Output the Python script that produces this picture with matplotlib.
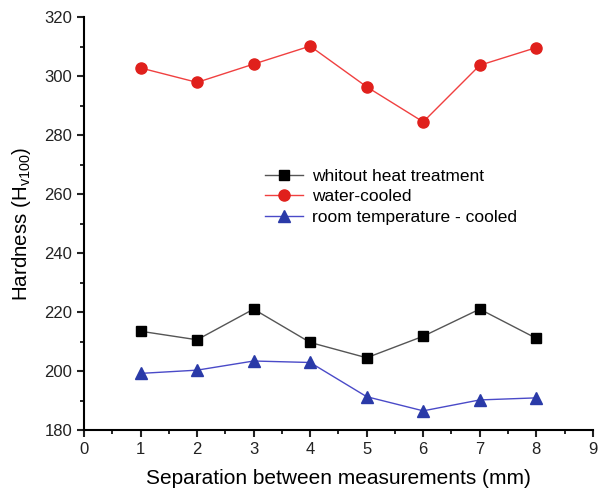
import numpy as np
from matplotlib import pyplot as plt
from matplotlib.ticker import MultipleLocator

plt.rcParams['font.family'] = ['Liberation Sans', 'DejaVu Sans']

# data
x = [1, 2, 3, 4, 5, 6, 7, 8]
no_treatment = [213.5, 210.6, 221.0, 209.7, 204.5, 211.8, 221.0, 211.1]
water_cooled = [302.8, 297.9, 304.1, 310.2, 296.4, 284.5, 303.7, 309.7]
room_cooled = [199.2, 200.3, 203.4, 202.9, 191.3, 186.5, 190.2, 190.9]

fig = plt.figure(figsize=(6, 4.92), dpi=100)
ax = fig.add_axes([0.14, 0.126, 0.848, 0.839])

ax.plot(x, no_treatment, color='#555555', lw=1, marker='s', ms=7,
        mfc='black', mec='black', label='whitout heat treatment')
ax.plot(x, water_cooled, color='#f04040', lw=1, marker='o', ms=8,
        mfc='#e0201c', mec='#e0201c', label='water-cooled')
ax.plot(x, room_cooled, color='#4a4ac8', lw=1, marker='^', ms=8,
        mfc='#2a3aa8', mec='#2a3aa8', label='room temperature - cooled')

ax.set_xlim(0, 9)
ax.set_ylim(180, 320)
ax.xaxis.set_major_locator(MultipleLocator(1))
ax.xaxis.set_minor_locator(MultipleLocator(0.5))
ax.yaxis.set_major_locator(MultipleLocator(20))
ax.yaxis.set_minor_locator(MultipleLocator(10))
ax.spines['top'].set_visible(False)
ax.spines['right'].set_visible(False)
for s in ['left', 'bottom']:
    ax.spines[s].set_linewidth(1.5)
ax.tick_params(which='major', length=5, width=1.5, labelsize=12, colors='#222222')
ax.tick_params(which='minor', length=3, width=1.2)

ax.set_xlabel('Separation between measurements (mm)', fontsize=15, labelpad=9)
ax.set_ylabel('Hardness (H$_{\\mathregular{v100}}$)', fontsize=14.8, labelpad=8)

ax.legend(loc='upper left', bbox_to_anchor=(258 / 600, 1 - 162 / 492),
          bbox_transform=fig.transFigure, frameon=False, fontsize=12.5,
          handlelength=2.2, handletextpad=0.5, labelspacing=0.3, borderaxespad=0)

plt.savefig('out.png', dpi=100)
